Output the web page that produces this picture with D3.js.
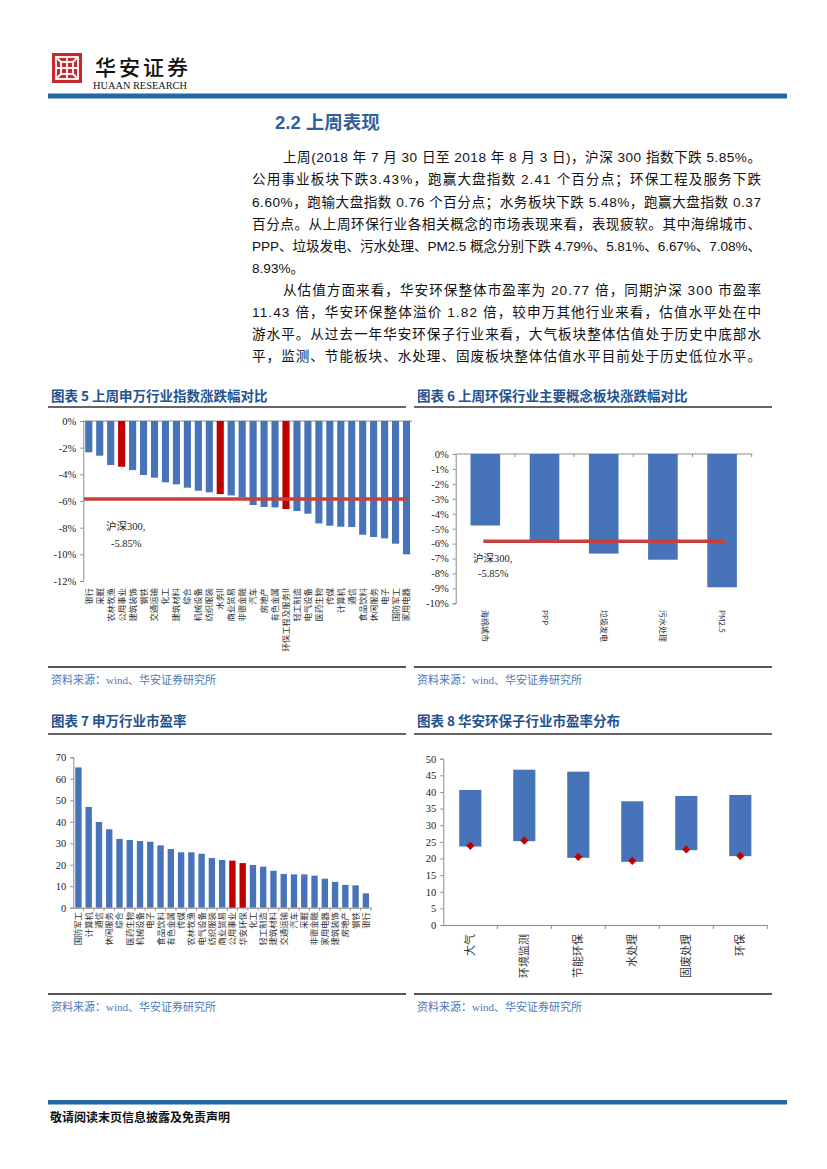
<!DOCTYPE html>
<html>
<head>
<meta charset="utf-8">
<title>2.2 上周表现</title>
<script src="https://d3js.org/d3.v7.min.js"></script>
<style>
  body { margin: 0; background: #fff; }
  #page { position: relative; width: 827px; height: 1169px; overflow: hidden; }
  #page svg { position: absolute; left: 0; top: 0; }
  .para { font-family: "Liberation Sans", "Noto Sans CJK SC", sans-serif; font-size: 13.6px; fill: #111; }
  .axis path, .axis line { stroke: #8c8c8c; }
  .axis text { font-family: "Liberation Serif", serif; font-size: 10.5px; fill: #222; }
  .cat { font-family: "Noto Sans CJK SC", sans-serif; fill: #333; }
</style>
</head>
<body>
<div id="page">
  <svg id="sheet" width="827" height="1169"></svg>
</div>
<script>
// ---- data ----
const swCats = ["银行","采掘","农林牧渔","公用事业","建筑装饰","钢铁","交通运输","化工","建筑材料","综合",
                "机械设备","纺织服装","水务II","商业贸易","非银金融","汽车","房地产","有色金属","环保工程及服务II","轻工制造",
                "电气设备","医药生物","传媒","计算机","通信","食品饮料","休闲服务","电子","国防军工","家用电器"];
const swChg = [-2.35,-2.6,-3.3,-3.43,-3.68,-4.05,-4.25,-4.6,-4.75,-5.0,
               -5.23,-5.35,-5.48,-5.58,-5.73,-6.3,-6.45,-6.48,-6.60,-6.75,
               -6.95,-7.68,-7.85,-7.93,-7.95,-8.53,-8.7,-8.8,-9.2,-10.0];
const swHighlight = ["公用事业","水务II","环保工程及服务II"];
const hs300Chg = -5.85;
const hs300Label = ["沪深300,", "-5.85%"];

const conceptCats = ["海绵城市","PPP","垃圾发电","污水处理","PM2.5"];
const conceptChg = [-4.79,-5.81,-6.67,-7.08,-8.93];

const peCats = ["国防军工","计算机","通信","休闲服务","综合","医药生物","机械设备","电子","食品饮料","有色金属",
                "传媒","农林牧渔","电气设备","纺织服装","商业贸易","公用事业","华安环保","化工","轻工制造","建筑材料",
                "交通运输","汽车","采掘","非银金融","家用电器","建筑装饰","房地产","钢铁","银行"];
const peVals = [65.3,46.9,39.9,36.5,32.0,31.5,31.0,30.7,29.0,27.3,
                25.8,25.8,25.1,23.1,22.2,21.9,20.77,19.9,19.1,17.2,
                15.7,15.5,15.5,14.9,13.5,12.0,10.6,10.4,6.7];
const peHighlight = ["公用事业","华安环保"];

const subCats = ["大气","环境监测","节能环保","水处理","固废处理","环保"];
const subLow  = [23.6,25.2,20.2,19.0,22.5,20.7];
const subHigh = [40.6,46.7,46.1,37.2,38.8,39.1];
const subNow  = [23.8,25.4,20.5,19.3,22.7,20.77];

const pctTicks5 = [0,-2,-4,-6,-8,-10,-12];
const pctTicks6 = [0,-1,-2,-3,-4,-5,-6,-7,-8,-9,-10];
const peTicks7 = [0,10,20,30,40,50,60,70];
const peTicks8 = [0,5,10,15,20,25,30,35,40,45,50];

const chartTitles = ["图表 5 上周申万行业指数涨跌幅对比","图表 6 上周环保行业主要概念板块涨跌幅对比",
                     "图表 7 申万行业市盈率","图表 8 华安环保子行业市盈率分布"];
const sourceText = "资料来源：wind、华安证券研究所";

// body text, one entry per printed line
const paraLines = [
  "上周(2018 年 7 月 30 日至 2018 年 8 月 3 日)，沪深 300 指数下跌 5.85%。",
  "公用事业板块下跌3.43%，跑赢大盘指数 2.41 个百分点；环保工程及服务下跌",
  "6.60%，跑输大盘指数 0.76 个百分点；水务板块下跌 5.48%，跑赢大盘指数 0.37",
  "百分点。从上周环保行业各相关概念的市场表现来看，表现疲软。其中海绵城市、",
  "PPP、垃圾发电、污水处理、PM2.5 概念分别下跌 4.79%、5.81%、6.67%、7.08%、",
  "8.93%。",
  "从估值方面来看，华安环保整体市盈率为 20.77 倍，同期沪深 300 市盈率",
  "11.43 倍，华安环保整体溢价 1.82 倍，较申万其他行业来看，估值水平处在中",
  "游水平。从过去一年华安环保子行业来看，大气板块整体估值处于历史中底部水",
  "平，监测、节能板块、水处理、固废板块整体估值水平目前处于历史低位水平。"
];
const paraIndent = [true,false,false,false,false,false,true,false,false,false];
const paraJustify = [true,true,true,true,true,false,true,true,true,true];

// ---- colours ----
const blue = "#4774b8", red = "#c00000", lineRed = "#c8403e";
const titleBlue = "#24528f", barBlue = "#2767a9";

const svg = d3.select("#sheet");

// ---- page header ----
const logo = svg.append("g").attr("transform", "translate(52,53)");
logo.append("rect").attr("width", 30).attr("height", 30).attr("fill", "#c62a2f");
const lw = logo.append("g").attr("fill", "none").attr("stroke", "#fff").attr("stroke-width", 1.8);
lw.append("rect").attr("x", 4).attr("y", 4).attr("width", 22).attr("height", 22);
lw.append("rect").attr("x", 9).attr("y", 9).attr("width", 12).attr("height", 12);
lw.append("path").attr("d", "M15,4V26M4,15H26M9,9L4,4M21,9L26,4M9,21L4,26M21,21L26,26");
svg.append("text").attr("x", 95).attr("y", 75)
   .style("font-family", '"Noto Sans CJK SC"').style("font-size", "21px").style("font-weight", 500)
   .style("letter-spacing", "3px").attr("fill", "#111").text("华安证券");
svg.append("text").attr("x", 93).attr("y", 89).attr("textLength", 94).attr("lengthAdjust", "spacingAndGlyphs")
   .style("font-family", '"Liberation Serif", serif').style("font-size", "9.5px").attr("fill", "#111")
   .text("HUAAN RESEARCH");
svg.append("rect").attr("x", 48).attr("y", 93.5).attr("width", 739).attr("height", 5).attr("fill", barBlue);

svg.append("text").attr("x", 275).attr("y", 129)
   .style("font-family", '"Liberation Sans", "Noto Sans CJK SC", sans-serif')
   .style("font-size", "18.5px").style("font-weight", 700).attr("fill", "#2f5f9c").text("2.2 上周表现");

// ---- paragraph: each line justified to the column with textLength ----
const paraLeft = 252, paraRight = 761, paraIndentW = 31;
svg.append("g").attr("class", "para").selectAll("text").data(paraLines).join("text")
   .attr("x", (d, i) => paraLeft + (paraIndent[i] ? paraIndentW : 0))
   .attr("y", (d, i) => 162.3 + i * 22.1)
   .each(function (d, i) {
     if (paraJustify[i]) {
       d3.select(this).attr("textLength", paraRight - paraLeft - (paraIndent[i] ? paraIndentW : 0))
         .attr("lengthAdjust", "spacing");
     }
   })
   .text(d => d);

// ---- frame for each chart: title, rules, source ----
const frames = [
  { x0: 48, x1: 406, ty: 401, ly: 407, sy: 667 },
  { x0: 414, x1: 772, ty: 401, ly: 407, sy: 667 },
  { x0: 48, x1: 406, ty: 726, ly: 734, sy: 994 },
  { x0: 414, x1: 772, ty: 726, ly: 734, sy: 994 }
];
frames.forEach((f, i) => {
  svg.append("text").attr("x", f.x0 + 3).attr("y", f.ty)
     .style("font-family", '"Noto Sans CJK SC", sans-serif').style("font-size", "13.5px").style("font-weight", 700)
     .attr("fill", titleBlue).text(chartTitles[i]);
  svg.append("line").attr("x1", f.x0).attr("x2", f.x1).attr("y1", f.ly).attr("y2", f.ly)
     .attr("stroke", "#333").attr("stroke-width", 1.4);
  svg.append("line").attr("x1", f.x0).attr("x2", f.x1).attr("y1", f.sy).attr("y2", f.sy)
     .attr("stroke", "#555").attr("stroke-width", 2.2);
  svg.append("text").attr("x", f.x0 + 3).attr("y", f.sy + 17)
     .style("font-family", '"Liberation Serif", "Noto Sans CJK SC", serif').style("font-size", "11px")
     .attr("fill", "#4a78b8").text(sourceText);
});

// helper: rotated category labels
function catLabels(g, cats, x, top, size, dir) {
  g.selectAll("text.cat").data(cats).join("text").attr("class", "cat")
   .attr("transform", d => `translate(${x(d) + x.bandwidth() / 2},${top}) rotate(${dir})`)
   .attr("text-anchor", dir < 0 ? "end" : "start").attr("dy", "0.35em")
   .style("font-size", size + "px").text(d => d);
}
function styleAxis(g) {
  g.attr("class", "axis");
  g.select(".domain").attr("stroke", "#8c8c8c");
}

// ---- chart 5 ----
{
  const g = svg.append("g");
  const x = d3.scaleBand().domain(swCats).range([83.3, 412]).paddingInner(0.35).paddingOuter(0.175);
  const y = d3.scaleLinear().domain([-12, 0]).range([581, 421]);
  g.append("g").attr("transform", "translate(83.3,0)")
   .call(d3.axisLeft(y).tickValues(pctTicks5).tickSize(3).tickPadding(4).tickFormat(d => d + "%"))
   .call(styleAxis);
  g.append("line").attr("x1", 83.3).attr("x2", 412).attr("y1", y(0)).attr("y2", y(0)).attr("stroke", "#8c8c8c");
  g.selectAll("rect.bar").data(swCats).join("rect").attr("class", "bar")
   .attr("x", d => x(d)).attr("width", x.bandwidth())
   .attr("y", y(0)).attr("height", (d, i) => y(swChg[i]) - y(0))
   .attr("fill", d => swHighlight.includes(d) ? red : blue);
  g.append("line").attr("x1", 84).attr("x2", 408).attr("y1", y(hs300Chg)).attr("y2", y(hs300Chg))
   .attr("stroke", lineRed).attr("stroke-width", 3.5);
  g.selectAll("text.note").data(hs300Label).join("text").attr("class", "note")
   .attr("x", (d, i) => i ? 111 : 106).attr("y", (d, i) => i ? 547 : 530)
   .style("font-family", '"Liberation Serif", "Noto Sans CJK SC", serif').style("font-size", "10.5px")
   .attr("fill", "#222").text(d => d);
  catLabels(g, swCats, x, 588, 8.4, -90);
}

// ---- chart 6 ----
{
  const g = svg.append("g");
  const x = d3.scaleBand().domain(conceptCats).range([455.7, 751.7]).paddingInner(0.5).paddingOuter(0.25);
  const y = d3.scaleLinear().domain([-10, 0]).range([603.3, 454]);
  g.append("g").attr("transform", "translate(455.7,0)")
   .call(d3.axisLeft(y).tickValues(pctTicks6).tickSize(3).tickPadding(4).tickFormat(d => d + "%"))
   .call(styleAxis);
  g.append("line").attr("x1", 455.7).attr("x2", 751.7).attr("y1", y(0)).attr("y2", y(0)).attr("stroke", "#8c8c8c");
  g.selectAll("line.tk").data(conceptCats).join("line").attr("class", "tk")
   .attr("x1", d => x(d) - x.step() * 0.25 + x.step()).attr("x2", d => x(d) - x.step() * 0.25 + x.step())
   .attr("y1", y(0)).attr("y2", y(0) + 3).attr("stroke", "#8c8c8c");
  g.selectAll("rect.bar").data(conceptCats).join("rect").attr("class", "bar")
   .attr("x", d => x(d)).attr("width", x.bandwidth())
   .attr("y", y(0)).attr("height", (d, i) => y(conceptChg[i]) - y(0)).attr("fill", blue);
  const c0 = x(conceptCats[0]) + x.bandwidth() / 2, c1 = x(conceptCats[conceptCats.length - 1]) + x.bandwidth() / 2;
  g.append("line").attr("x1", c0 - 2).attr("x2", c1 + 3).attr("y1", y(hs300Chg)).attr("y2", y(hs300Chg))
   .attr("stroke", lineRed).attr("stroke-width", 3.5);
  g.selectAll("text.note").data(hs300Label).join("text").attr("class", "note")
   .attr("x", (d, i) => i ? 478 : 473).attr("y", (d, i) => i ? 577 : 561.5)
   .style("font-family", '"Liberation Serif", "Noto Sans CJK SC", serif').style("font-size", "10.5px")
   .attr("fill", "#222").text(d => d);
  catLabels(g, conceptCats, x, 610, 8, 90);
}

// ---- chart 7 ----
{
  const g = svg.append("g");
  const x = d3.scaleBand().domain(peCats).range([73.3, 371]).paddingInner(0.38).paddingOuter(0.19);
  const y = d3.scaleLinear().domain([0, 70]).range([907.7, 757.3]);
  g.append("g").attr("transform", "translate(73.3,0)")
   .call(d3.axisLeft(y).tickValues(peTicks7).tickSize(3).tickPadding(4).tickFormat(d3.format("d")))
   .call(styleAxis);
  g.append("g").attr("transform", `translate(0,${y(0)})`)
   .call(d3.axisBottom(x).tickSize(0).tickFormat(""))
   .call(styleAxis);
  g.selectAll("line.tk").data(peCats).join("line").attr("class", "tk")
   .attr("x1", d => x(d) + x.bandwidth() + x.step() * 0.19).attr("x2", d => x(d) + x.bandwidth() + x.step() * 0.19)
   .attr("y1", y(0)).attr("y2", y(0) + 3).attr("stroke", "#8c8c8c");
  g.selectAll("rect.bar").data(peCats).join("rect").attr("class", "bar")
   .attr("x", d => x(d)).attr("width", x.bandwidth())
   .attr("y", (d, i) => y(peVals[i])).attr("height", (d, i) => y(0) - y(peVals[i]))
   .attr("fill", d => peHighlight.includes(d) ? red : blue);
  catLabels(g, peCats, x, 912, 8.4, -90);
}

// ---- chart 8 ----
{
  const g = svg.append("g");
  const x = d3.scaleBand().domain(subCats).range([443.3, 767.3]).paddingInner(0.59).paddingOuter(0.295);
  const y = d3.scaleLinear().domain([0, 50]).range([925, 758.7]);
  g.append("g").attr("transform", "translate(443.3,0)")
   .call(d3.axisLeft(y).tickValues(peTicks8).tickSize(3).tickPadding(4).tickFormat(d3.format("d")))
   .call(styleAxis);
  g.append("g").attr("transform", `translate(0,${y(0)})`)
   .call(d3.axisBottom(x).tickSize(0).tickFormat(""))
   .call(styleAxis);
  g.selectAll("line.tk").data(subCats).join("line").attr("class", "tk")
   .attr("x1", d => x(d) + x.bandwidth() + x.step() * 0.295).attr("x2", d => x(d) + x.bandwidth() + x.step() * 0.295)
   .attr("y1", y(0)).attr("y2", y(0) + 4).attr("stroke", "#8c8c8c");
  g.selectAll("rect.bar").data(subCats).join("rect").attr("class", "bar")
   .attr("x", d => x(d)).attr("width", x.bandwidth())
   .attr("y", (d, i) => y(subHigh[i])).attr("height", (d, i) => y(subLow[i]) - y(subHigh[i]))
   .attr("fill", blue);
  const diamond = d3.symbol(d3.symbolSquare, 34);
  g.selectAll("path.now").data(subCats).join("path").attr("class", "now")
   .attr("d", diamond)
   .attr("transform", (d, i) => `translate(${x(d) + x.bandwidth() / 2},${y(subNow[i])}) rotate(45)`)
   .attr("fill", red);
  catLabels(g, subCats, x, 934, 11, -90);
}

// ---- page footer ----
svg.append("rect").attr("x", 48).attr("y", 1100).attr("width", 739).attr("height", 4.5).attr("fill", barBlue);
svg.append("text").attr("x", 50).attr("y", 1122)
   .style("font-family", '"Noto Sans CJK SC", sans-serif').style("font-size", "12px").style("font-weight", 700)
   .attr("fill", "#111").text("敬请阅读末页信息披露及免责声明");
</script>
</body>
</html>
